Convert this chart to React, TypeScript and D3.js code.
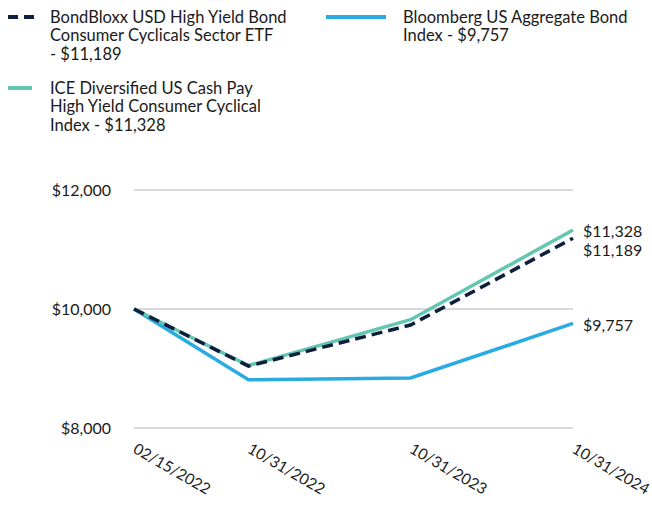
import React, { useEffect, useRef } from 'react';
import * as d3 from 'd3';

const dates = ['02/15/2022', '10/31/2022', '10/31/2023', '10/31/2024'];
const etfValues = [10000, 9040, 9731, 11189];
const iceValues = [10000, 9050, 9820, 11328];
const aggValues = [10000, 8810, 8840, 9757];
const yTicks = [8000, 10000, 12000];

const seriesNames = [
  'BondBloxx USD High Yield Bond Consumer Cyclicals Sector ETF - $11,189',
  'ICE Diversified US Cash Pay High Yield Consumer Cyclical Index - $11,328',
  'Bloomberg US Aggregate Bond Index - $9,757',
];

const FONT = 'Lato, "Open Sans", sans-serif';

function App() {
  const ref = useRef<SVGSVGElement | null>(null);
  const width = 652;
  const height = 508;

  useEffect(() => {
    if (!ref.current) return;
    const svg = d3.select(ref.current);
    svg.selectAll('*').remove();

    const parse = d3.timeParse('%m/%d/%Y');
    const xDates = dates.map((d) => parse(d) as Date);

    const x = d3.scaleTime()
      .domain([xDates[0], xDates[xDates.length - 1]])
      .range([134, 573]);
    const y = d3.scaleLinear()
      .domain([8000, 12000])
      .range([428, 190]);

    // gridlines
    svg.append('g')
      .selectAll('line')
      .data(yTicks)
      .enter()
      .append('line')
      .attr('x1', 134)
      .attr('x2', 573)
      .attr('y1', (d) => y(d))
      .attr('y2', (d) => y(d))
      .attr('stroke', '#d9d9d9')
      .attr('stroke-width', 2);

    // y labels
    svg.append('g')
      .selectAll('text')
      .data(yTicks)
      .enter()
      .append('text')
      .attr('x', 111)
      .attr('y', (d) => y(d))
      .attr('dy', '0.35em')
      .attr('text-anchor', 'end')
      .attr('font-family', FONT)
      .attr('font-size', 16)
      .attr('fill', '#1a1a1a')
      .text((d) => d3.format('$,')(d));

    // x labels
    svg.append('g')
      .selectAll('text')
      .data(xDates)
      .enter()
      .append('text')
      .attr('transform', (d) => `translate(${x(d) - 2},${452}) rotate(30)`)
      .attr('font-family', FONT)
      .attr('font-size', 15.5)
      .attr('fill', '#1a1a1a')
      .text((_, i) => dates[i]);

    const line = d3.line<number>()
      .x((_, i) => x(xDates[i]))
      .y((d) => y(d));

    svg.append('path')
      .attr('d', line(aggValues))
      .attr('fill', 'none')
      .attr('stroke', '#29abe2')
      .attr('stroke-width', 3.5);
    svg.append('path')
      .attr('d', line(iceValues))
      .attr('fill', 'none')
      .attr('stroke', '#62c6b2')
      .attr('stroke-width', 3.5);
    svg.append('path')
      .attr('d', line(etfValues))
      .attr('fill', 'none')
      .attr('stroke', '#0d1f3c')
      .attr('stroke-width', 3.5)
      .attr('stroke-dasharray', '11,6');

    // end labels
    const endLabels = [
      { v: iceValues[3], dy: 1, t: '$11,328' },
      { v: etfValues[3], dy: 12, t: '$11,189' },
      { v: aggValues[3], dy: 1.5, t: '$9,757' },
    ];
    svg.append('g')
      .selectAll('text')
      .data(endLabels)
      .enter()
      .append('text')
      .attr('x', 583)
      .attr('y', (d) => y(d.v) + d.dy)
      .attr('dy', '0.35em')
      .attr('font-family', FONT)
      .attr('font-size', 16)
      .attr('fill', '#1a1a1a')
      .text((d) => d.t);

    // legend
    const legend = [
      { x: 8, y: 17, lines: ['BondBloxx USD High Yield Bond', 'Consumer Cyclicals Sector ETF', '- $11,189'], color: '#0d1f3c', dash: '10,6', len: 26 },
      { x: 8, y: 88, lines: ['ICE Diversified US Cash Pay', 'High Yield Consumer Cyclical', 'Index - $11,328'], color: '#62c6b2', dash: null, len: 24 },
      { x: 326, y: 17, lines: ['Bloomberg US Aggregate Bond', 'Index - $9,757'], color: '#29abe2', dash: null, len: 60 },
    ];
    legend.forEach((l, i) => {
      const g = svg.append('g');
      g.append('line')
        .attr('x1', l.x)
        .attr('x2', l.x + l.len)
        .attr('y1', l.y)
        .attr('y2', l.y)
        .attr('stroke', l.color)
        .attr('stroke-width', 4)
        .attr('stroke-dasharray', l.dash);
      const tx = i === 2 ? 403 : 50;
      const text = g.append('text')
        .attr('font-family', FONT)
        .attr('font-size', 16.5)
        .attr('fill', '#1a1a1a')
        .attr('aria-label', seriesNames[i]);
      l.lines.forEach((s, j) => {
        text.append('tspan')
          .attr('x', tx)
          .attr('y', l.y + j * 18.5)
          .attr('dy', '0.35em')
          .text(s);
      });
    });
  }, []);

  return (
    <svg
      ref={ref}
      width={width}
      height={height}
      style={{ position: 'absolute', left: 0, top: 0, background: '#fff' }}
    />
  );
}

export default App;
